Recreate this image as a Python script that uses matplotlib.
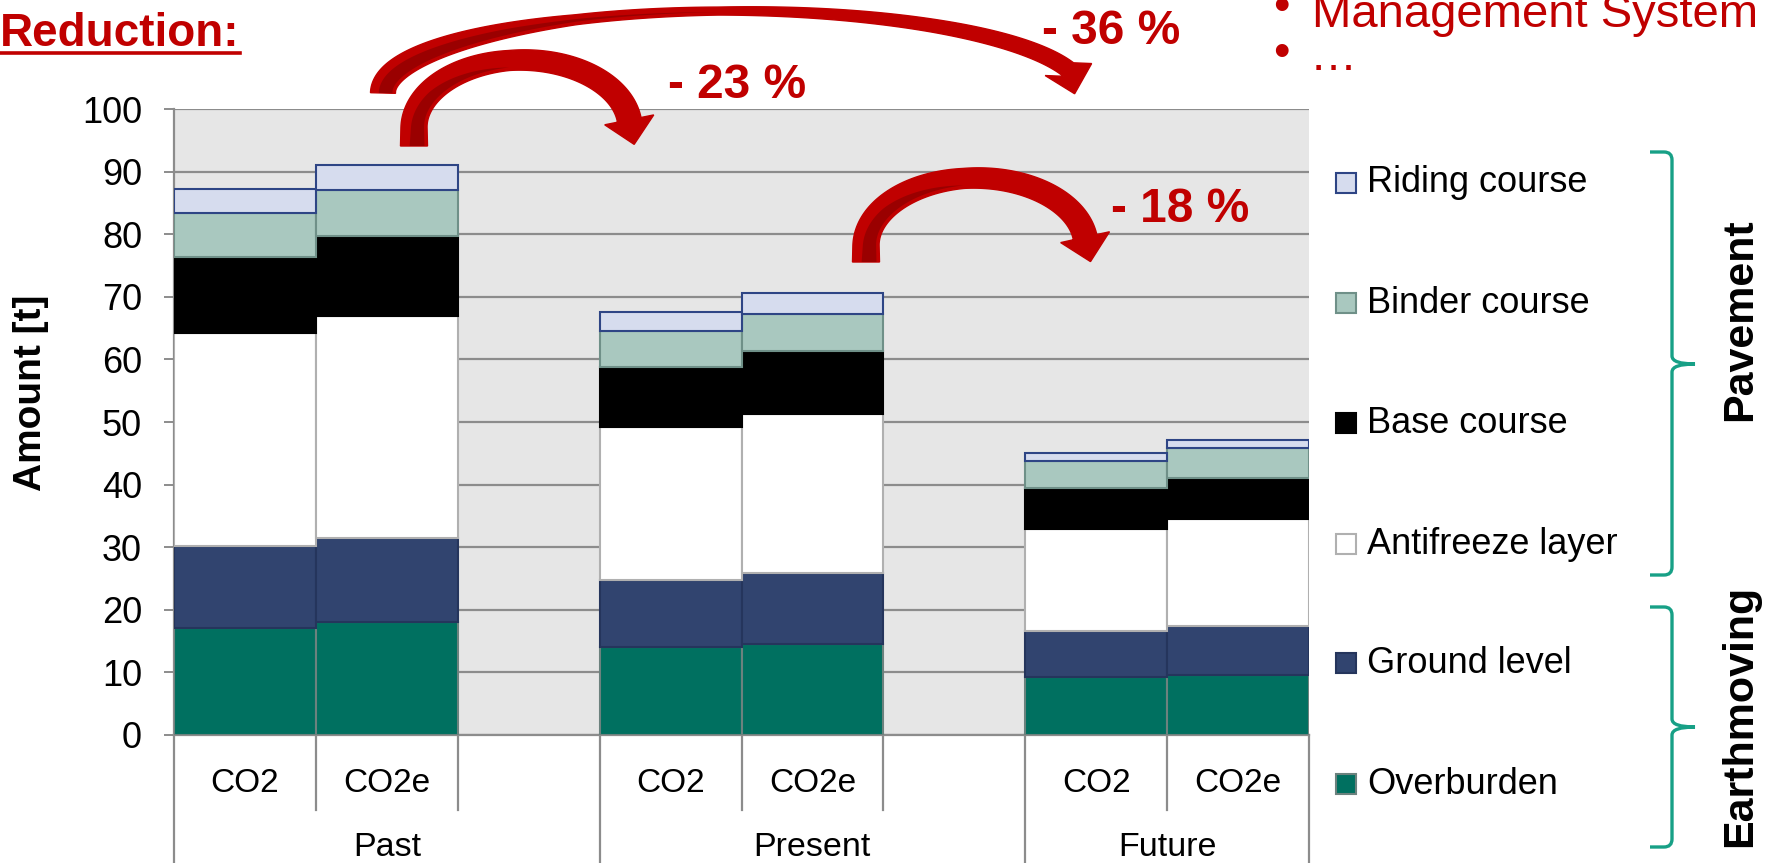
import matplotlib
matplotlib.use("Agg")
import matplotlib.pyplot as plt
import numpy as np
from matplotlib.patches import Polygon, Rectangle, PathPatch
from matplotlib.path import Path
from matplotlib.transforms import blended_transform_factory

plt.rcParams["font.family"] = ["Liberation Sans", "DejaVu Sans"]

W, H = 1771, 863
RED = "#c00000"
DARK_RED = "#9a0000"
TEAL = "#17a086"

# slot labels along the category axis (blank slot separates groups)
slot_labels = ["CO2", "CO2e", "", "CO2", "CO2e", "", "CO2", "CO2e"]
groups = ["Past", "Present", "Future"]
group_centers = [1, 4, 6.5]
bar_slots = [0, 1, 3, 4, 6, 7]

# stacked layers, bottom to top (amount in t)
overburden = [17.1, 18.0, 14.0, 14.6, 9.3, 9.6]
ground_level = [13.1, 13.5, 10.7, 11.2, 7.3, 7.8]
antifreeze = [34.0, 35.5, 24.5, 25.5, 16.3, 17.1]
base_course = [12.1, 12.7, 9.6, 10.1, 6.5, 6.5]
binder_course = [7.1, 7.3, 5.7, 5.9, 4.4, 4.8]
riding_course = [3.8, 4.1, 3.1, 3.3, 1.2, 1.3]

layers = [
    ("Overburden", overburden, "#007060", "#6c827e"),
    ("Ground level", ground_level, "#31446f", "#25355c"),
    ("Antifreeze layer", antifreeze, "#ffffff", "#b0b0b0"),
    ("Base course", base_course, "#000000", "#000000"),
    ("Binder course", binder_course, "#a9c8bf", "#6f9088"),
    ("Riding course", riding_course, "#d6dcee", "#2e4585"),
]

reductions = ["- 23 %", "- 36 %", "- 18 %"]


def px(x, y):
    return x / W, 1 - y / H


def block_arrow(fig, cx, cy, rx, ry, t_end, tail_y, widths, head_hw, head_len, head_dir=None, n=240):
    ts = np.linspace(np.pi, t_end, n)
    xs = cx + rx * np.cos(ts)
    ys = cy - ry * np.sin(ts)
    if tail_y > cy + 1:
        xs = np.concatenate([[cx - rx, cx - rx], xs])
        ys = np.concatenate([[tail_y, (tail_y + cy) / 2], ys])
    pts = np.column_stack([xs, ys])
    seg = np.hypot(np.diff(xs), np.diff(ys))
    s = np.concatenate([[0], np.cumsum(seg)])
    s /= s[-1]
    w = np.interp(s, [a for a, _ in widths], [b for _, b in widths])
    tx, ty = np.gradient(xs), np.gradient(ys)
    norm = np.hypot(tx, ty)
    tx, ty = tx / norm, ty / norm
    nx, ny = -ty, tx
    side_a = pts + np.column_stack([nx, ny]) * (w / 2)[:, None]
    side_b = pts - np.column_stack([nx, ny]) * (w / 2)[:, None]
    end = pts[-1]
    d = np.array([tx[-1], ty[-1]]) if head_dir is None else np.array(head_dir, float)
    d /= np.hypot(*d)
    nd = np.array([-d[1], d[0]])
    head = [end + nd * head_hw, end + d * head_len, end - nd * head_hw]
    poly = np.vstack([side_a, head, side_b[::-1]])
    fig.add_artist(Polygon([px(*p) for p in poly], closed=True, facecolor=RED,
                           edgecolor=RED, linewidth=1.0, transform=fig.transFigure))
    # darker inner face
    f = np.interp(s, [0, 0.2, 0.5], [0.55, 0.4, 0.0])
    mask = s <= 0.5
    inner = pts[mask] + np.column_stack([nx, ny])[mask] * (w[mask] / 2 - 3)[:, None]
    mid = inner - np.column_stack([nx, ny])[mask] * (f[mask] * w[mask])[:, None]
    dark = np.vstack([inner, mid[::-1]])
    fig.add_artist(Polygon([px(*p) for p in dark], closed=True, facecolor=DARK_RED,
                           edgecolor="none", transform=fig.transFigure))


def main() -> None:
    fig = plt.figure(figsize=(W / 100, H / 100), dpi=100)
    ax = fig.add_axes([174 / W, 1 - 735 / H, (1309 - 174) / W, (735 - 109) / H])
    ax.set_facecolor("#e6e6e6")

    bottom = np.zeros(len(bar_slots))
    for name, vals, fc, ec in layers:
        ax.bar(bar_slots, vals, width=1.0, bottom=bottom, color=fc, edgecolor=ec,
               linewidth=1.5, zorder=3)
        bottom += np.array(vals)

    ax.set_xlim(-0.5, 7.5)
    ax.set_ylim(0, 100)
    ax.set_yticks(range(0, 101, 10))
    ax.yaxis.grid(True, color="#8c8c8c", linewidth=1.6, zorder=0)
    ax.set_axisbelow(True)
    ax.tick_params(axis="y", length=7, width=1.4, color="#8c8c8c", pad=16, labelsize=26)
    ax.set_xticks([])
    for side in ["top", "right"]:
        ax.spines[side].set_visible(False)
    ax.spines["left"].set_color("#8c8c8c")
    ax.spines["left"].set_linewidth(1.6)
    ax.spines["bottom"].set_color("#8c8c8c")
    ax.spines["bottom"].set_linewidth(1.6)
    fig.text(*px(31, 393), "Amount [t]", rotation=90, fontsize=28, fontweight="bold",
             ha="center", va="center")

    # category axis below the plot
    trans = blended_transform_factory(ax.transData, ax.transAxes)
    for i in range(len(slot_labels) + 1):
        xb = i - 0.5
        long_line = xb in (-0.5, 2.5, 5.5, 7.5)
        ax.plot([xb, xb], [0, -0.22 if long_line else -0.12], color="#8c8c8c",
                linewidth=1.6, transform=trans, clip_on=False)
    for i, lab in enumerate(slot_labels):
        if lab:
            ax.text(i, -0.077, lab, transform=trans, ha="center", va="center", fontsize=24)
    for xc, g in zip(group_centers, groups):
        ax.text(xc, -0.179, g, transform=trans, ha="center", va="center", fontsize=24.5)

    # legend drawn as squares and labels, top entry first
    rows_y = [183, 303, 423, 544, 663, 784]
    for (name, vals, fc, ec), yy in zip(layers[::-1], rows_y):
        x0, y0 = px(1336, yy + 10)
        fig.add_artist(Rectangle((x0, y0), 20 / W, 20 / H, facecolor=fc, edgecolor=ec,
                                 linewidth=1.5, transform=fig.transFigure))
        fig.text(*px(1367, yy), name, fontsize=26, va="center", ha="left")

    # brackets
    def bracket(top, mid, bot, xv=1672, xe=1650, xt=1695):
        r = 8
        verts = [px(xe, top), px(xv - r, top), px(xv, top), px(xv, top + r),
                 px(xv, mid - r), px(xv, mid), px(xt, mid),
                 px(xv, mid), px(xv, mid + r),
                 px(xv, bot - r), px(xv, bot), px(xv - r, bot), px(xe, bot)]
        codes = [Path.MOVETO, Path.LINETO, Path.CURVE3, Path.CURVE3,
                 Path.LINETO, Path.CURVE3, Path.CURVE3,
                 Path.CURVE3, Path.CURVE3,
                 Path.LINETO, Path.CURVE3, Path.CURVE3, Path.LINETO]
        fig.add_artist(PathPatch(Path(verts, codes), facecolor="none", edgecolor=TEAL,
                                 linewidth=2.4, transform=fig.transFigure))

    bracket(152, 364, 575)
    bracket(607, 727, 847)
    fig.text(*px(1740, 320), "Pavement", rotation=90, fontsize=31, fontweight="bold",
             ha="center", va="center")
    fig.text(*px(1740, 716), "Earthmoving", rotation=90, fontsize=31, fontweight="bold",
             ha="center", va="center")

    # reduction arrows and labels
    block_arrow(fig, 733, 93, 350, 82, 0.29, 93,
                [(0, 25), (0.3, 10), (0.5, 8), (0.8, 13), (1, 17)], 24, 25, head_dir=(0.25, 0.97))
    block_arrow(fig, 522, 128, 108, 68, 0.12, 146, [(0, 27), (0.5, 20), (1, 24)], 25, 25)
    block_arrow(fig, 976, 246, 110, 68, 0.13, 262, [(0, 27), (0.5, 20), (1, 24)], 25, 25)
    for (xx, yy), lab in zip([(737, 86), (1111, 31), (1180, 209)], reductions):
        fig.text(*px(xx, yy), lab, color=RED, fontsize=34.5, fontweight="bold",
                 ha="center", va="center")

    # slide text around the chart
    t = fig.text(*px(0, 46), "Reduction:", color=RED, fontsize=33, fontweight="bold",
                 ha="left", va="baseline")
    fig.canvas.draw()
    bb = t.get_window_extent()
    fig.add_artist(plt.Line2D([0, bb.x1 / W], [1 - 53 / H, 1 - 53 / H], color=RED,
                              linewidth=2.6, transform=fig.transFigure))
    fig.text(*px(1312, 27), "Management System", color=RED, fontsize=34, ha="left", va="baseline")
    fig.text(*px(1281, 8), "\u2022", color=RED, fontsize=34, ha="center", va="center")
    fig.text(*px(1281, 54), "\u2022", color=RED, fontsize=34, ha="center", va="center")
    fig.text(*px(1310, 70), "\u2026", color=RED, fontsize=34, ha="left", va="baseline")

    fig.savefig("out.png", dpi=100)
    plt.close(fig)


if __name__ == "__main__":
    main()
